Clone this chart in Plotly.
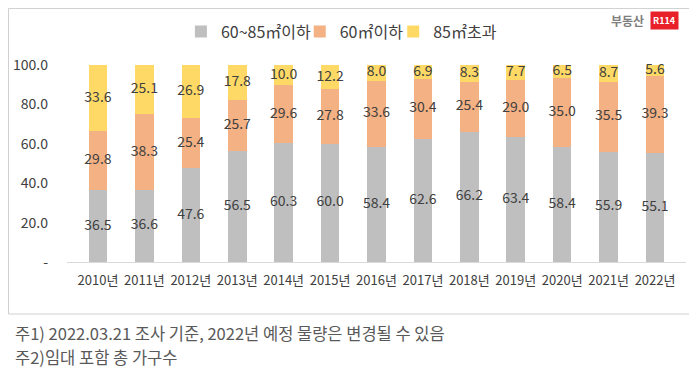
import plotly.graph_objects as go

years = ["2010년", "2011년", "2012년", "2013년", "2014년", "2015년", "2016년",
         "2017년", "2018년", "2019년", "2020년", "2021년", "2022년"]
mid_60_85 = [36.5, 36.6, 47.6, 56.5, 60.3, 60.0, 58.4, 62.6, 66.2, 63.4, 58.4, 55.9, 55.1]
small_60 = [29.8, 38.3, 25.4, 25.7, 29.6, 27.8, 33.6, 30.4, 25.4, 29.0, 35.0, 35.5, 39.3]
large_85 = [33.6, 25.1, 26.9, 17.8, 10.0, 12.2, 8.0, 6.9, 8.3, 7.7, 6.5, 8.7, 5.6]
y_ticks = [0, 20, 40, 60, 80, 100]
y_ticktext = ["-", "20.0", "40.0", "60.0", "80.0", "100.0"]

FONT = "Noto Sans CJK KR"
TXT = "#404040"

series = [
    ("60~85㎡이하", mid_60_85, "#BFBFBF", "legend"),
    ("60㎡이하", small_60, "#F4B183", "legend2"),
    ("85㎡초과", large_85, "#FFD966", "legend3"),
]

fig = go.Figure()
base = [0.0] * len(years)
for name, vals, col, lg in series:
    fig.add_trace(go.Bar(
        x=years, y=vals, name=name, marker_color=col, marker_line_width=0, legend=lg,
    ))
    mids = [b + v / 2 for b, v in zip(base, vals)]
    fig.add_trace(go.Scatter(
        x=years, y=mids, mode="text", text=[f"{v:.1f}" for v in vals],
        textposition="middle center", showlegend=False, hoverinfo="skip",
        textfont=dict(family=FONT, size=14, color=TXT), cliponaxis=False,
    ))
    base = [b + v for b, v in zip(base, vals)]

leg_common = dict(orientation="h", y=0.936, yref="container", yanchor="middle",
                  xanchor="left", font=dict(family=FONT, size=16, color=TXT),
                  itemsizing="constant", itemwidth=30, bgcolor="rgba(0,0,0,0)")

fig.update_layout(
    barmode="stack", bargap=0.6,
    width=689, height=368,
    margin=dict(l=59, r=11, t=57, b=114, autoexpand=False),
    paper_bgcolor="white", plot_bgcolor="white",
    font=dict(family=FONT, size=14, color=TXT),
    legend=dict(x=0.184, **leg_common),
    legend2=dict(x=0.376, **leg_common),
    legend3=dict(x=0.527, **leg_common),
    showlegend=True,
)
fig.update_xaxes(showline=True, linecolor="#D9D9D9", linewidth=1, ticks="",
                 ticklabelstandoff=6,
                 tickfont=dict(family=FONT, size=13, color=TXT))
fig.update_yaxes(range=[0, 100], tickvals=y_ticks, ticktext=y_ticktext,
                 showgrid=False, zeroline=False, ticks="", ticklabelstandoff=18,
                 tickfont=dict(family=FONT, size=14, color=TXT))

# outer chart border
fig.add_shape(type="rect", xref="paper", yref="paper", x0=-0.0945, x1=1.008,
              y0=-0.264, y1=1.287, line=dict(color="#D0D0D0", width=1))

# logo
fig.add_annotation(xref="paper", yref="paper", x=0.935, y=1.226, xanchor="right",
                   yanchor="middle", text="<b>부동산</b>", showarrow=False,
                   font=dict(family=FONT, size=12, color="#7F7F7F"))
fig.add_annotation(xref="paper", yref="paper", x=0.989, y=1.226, xanchor="right",
                   yanchor="middle", text="<b>R114</b>", showarrow=False, bgcolor="#E8202A",
                   font=dict(family=FONT, size=9, color="white"), borderpad=2)

# footnotes
fig.add_annotation(xref="paper", yref="paper", x=-0.0872, y=-0.360, xanchor="left",
                   yanchor="middle", showarrow=False,
                   text="주1) 2022.03.21 조사 기준, 2022년 예정 물량은 변경될 수 있음",
                   font=dict(family=FONT, size=16.5, color="#595959"))
fig.add_annotation(xref="paper", yref="paper", x=-0.0872, y=-0.482, xanchor="left",
                   yanchor="middle", showarrow=False,
                   text="주2)임대 포함 총 가구수",
                   font=dict(family=FONT, size=16.5, color="#595959"))

fig.write_html("out.html")
